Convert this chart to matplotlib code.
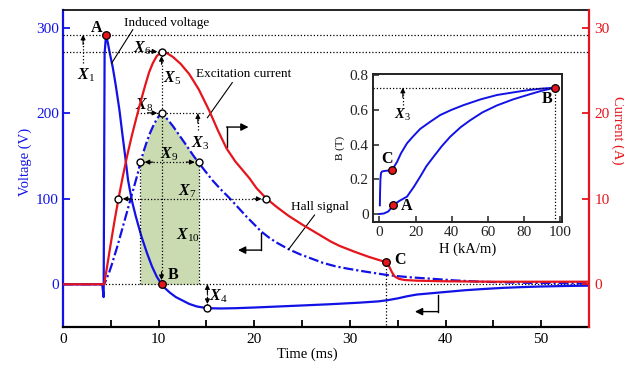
import numpy as np
import matplotlib
matplotlib.use("Agg")
import matplotlib.pyplot as plt
from matplotlib.ticker import MultipleLocator, FuncFormatter

plt.rcParams["font.family"] = ["Liberation Serif", "DejaVu Serif"]
plt.rcParams["mathtext.fontset"] = "custom"
plt.rcParams["mathtext.rm"] = "Liberation Serif"
plt.rcParams["mathtext.it"] = "Liberation Serif:italic:bold"
plt.rcParams["mathtext.bf"] = "Liberation Serif:bold"

# ---- data (time in ms) ----
t_volt = np.array([0, 4.1, 4.25, 4.35, 4.5, 4.7, 4.9, 5.2, 5.5, 5.9, 6.25, 6.5, 6.8,
                   7.2, 7.6, 8.2, 8.8, 9.3, 9.8, 10.3, 10.7, 11.2, 11.8, 12.5, 13.2,
                   14.0, 15.1, 16.5, 18.0, 20.0, 22.5, 25.0, 28.0, 31.0, 33.0, 34.0,
                   35.0, 36.0, 37.0, 38.5, 40.0, 42.0, 44.0, 46.0, 48.0, 50.0, 52.5, 55.0])
volt = np.array([0, 0, -15, 270, 292, 282, 270, 254, 234, 204, 172, 150, 122,
                 98, 80, 56, 36, 21, 9, 0, -5, -10, -15, -19, -23,
                 -26, -28, -28.3, -28, -27.2, -26, -24.8, -23.3, -21.5, -20, -18.5,
                 -16.5, -14, -12, -10.5, -9, -7, -5.5, -4.2, -3.3, -2.6, -2, -1.6])

t_curr = np.array([0, 4.3, 4.6, 5.0, 5.4, 5.8, 6.25, 6.7, 7.2, 7.7, 8.2, 8.6, 9.0, 9.4,
                   9.8, 10.3, 10.8, 11.5, 12.3, 13.2, 14.2, 15.3, 16.2, 17.1, 18.0,
                   18.75, 19.5, 20.2, 21.2, 22.4, 23.6, 25.0, 26.5, 28.0, 28.9, 30.5,
                   32.0, 33.0, 33.75, 34.1, 34.4, 34.7, 35.1, 35.7, 37.0, 40.0, 45.0,
                   50.0, 55.0])
curr = np.array([0, 0, 2.0, 4.8, 7.5, 10.0, 12.6, 15.0, 17.4, 19.6, 21.7, 23.3, 24.8,
                 25.9, 26.7, 27.2, 27.1, 26.6, 25.8, 24.6, 22.8, 20.3, 18.0, 15.9, 14.4,
                 13.4, 12.4, 11.3, 10.1, 9.0, 8.0, 7.0, 6.0, 5.0, 4.5, 3.8,
                 3.2, 2.85, 2.6, 2.1, 1.4, 0.9, 0.65, 0.5, 0.42, 0.35, 0.3,
                 0.3, 0.3])

t_hall = np.array([0, 4.3, 4.5, 4.8, 5.1, 5.4, 5.7, 6.0, 6.3, 6.6, 7.0, 7.4, 7.8, 8.1,
                   8.5, 8.8, 9.1, 9.5, 9.8, 10.1, 10.3, 10.6, 11.0, 11.5, 12.0, 12.5,
                   13.0, 13.6, 14.2, 14.9, 15.6, 16.5, 17.4, 18.3, 19.2, 20.0, 20.7,
                   21.5, 22.3, 23.6, 24.8, 26.0, 27.2, 28.5, 29.9, 31.5, 33.8, 35.0,
                   36.5, 38.5, 41.0, 43.7, 47.0, 50.0, 55.0])
hall = np.array([0, 0, 5, 13, 23, 34, 45, 57, 69, 81, 97, 113, 129, 143,
                 158, 168, 177, 187, 193, 198, 200, 197, 192, 185, 177, 169,
                 161, 151, 142, 132, 122, 111, 101, 90, 79, 70, 62,
                 55, 49, 41, 35, 30, 25, 21, 18, 15, 11, 9.5,
                 8, 6.5, 4.5, 3, 2, 1.5, 1])

# B-H loop (inset)
h_rise = np.array([0, 2.5, 5, 7.7, 11, 15.3, 19, 22.6, 26, 30, 34.5, 39.2, 45, 50.3,
                   57, 65, 74, 83.4, 90, 96.9])
b_rise = np.array([0, 0.003, 0.015, 0.05, 0.075, 0.10, 0.155, 0.215, 0.275, 0.33, 0.39,
                   0.445, 0.50, 0.54, 0.585, 0.625, 0.66, 0.69, 0.71, 0.727])
h_fall = np.array([96.9, 90, 83.4, 74, 65, 56, 46.6, 40, 33.7, 28, 22.6, 18.5, 15.3, 12,
                   9.8, 7.0, 5.0, 3.0, 1.5, 0.9, 0.6, 0.4, 0.3])
b_fall = np.array([0.727, 0.722, 0.715, 0.70, 0.685, 0.66, 0.627, 0.60, 0.57, 0.53, 0.49,
                   0.445, 0.407, 0.35, 0.30, 0.253, 0.25, 0.248, 0.245, 0.235, 0.20,
                   0.12, 0.05])

WIDTH_T = (8.1, 14.2)      # X9 half-width times on the Hall signal
X7_T = (5.8, 21.2)         # current = 10 A crossings
C_T = 33.75
VA = 10.0                  # volts per amp between the two y axes

BLUE = "#1212e6"
RED = "#e6141c"
GREEN = "#cbdbb1"
DOT = (0, (1, 1.6))


def at(t, y, tq):
    return y[np.argmin(np.abs(t - tq))]


fig = plt.figure(figsize=(6.24, 3.65), dpi=100)
ax = fig.add_axes([63 / 624, 38 / 365, 526 / 624, 317 / 365])
ax2 = ax.twinx()

ax.set_xlim(0, 55)
ax.set_ylim(-50, 321)
ax2.set_ylim(-50 / VA, 321 / VA)

# shaded area under the Hall signal
m = (t_hall >= WIDTH_T[0]) & (t_hall <= WIDTH_T[1])
ax.fill_between(t_hall[m], 0, hall[m], color=GREEN, lw=0, zorder=0.5)

ax.plot(t_volt, volt, color=BLUE, lw=1.6, zorder=2)
ax.plot(t_hall, hall, color=BLUE, lw=1.6, dashes=(4.5, 1.3, 1, 1.3), zorder=2)
ax2.plot(t_curr, curr, color=RED, lw=1.6, zorder=2)


def dline(axis, x, y):
    axis.plot(x, y, color="k", lw=0.9, ls=DOT, zorder=3)


def head(axis, xy, off, shrink=0, size=7):
    axis.annotate("", xy=xy, xytext=off, textcoords="offset points",
                  arrowprops=dict(arrowstyle="-|>", color="k", lw=0.8,
                                  shrinkA=0, shrinkB=shrink, mutation_scale=size),
                  zorder=4)


def bend_arrow(x0, y0, x1, y1):
    ax.plot([x0, x0], [y0, y1], color="k", lw=1.0, zorder=3)
    ax.annotate("", xy=(x1, y1), xytext=(x0, y1),
                arrowprops=dict(arrowstyle="-|>", color="k", lw=1.0,
                                shrinkA=0, shrinkB=0, mutation_scale=11))


def xlab(axis, x, y, s, **kw):
    axis.text(x, y, s, fontsize=11.5, ha="center", va="center", zorder=5, **kw)


# key points
iA = np.argmax(volt)
tA, vA = t_volt[iA], volt[iA]
iP = np.argmax(curr)
tP, cP = t_curr[iP], curr[iP]
iH = np.argmax(hall)
tH, vH = t_hall[iH], hall[iH]
tB = tH
iM = np.argmin(volt[t_volt < 16])
tM, vM = t_volt[iM], volt[iM]
vW = at(t_hall, hall, WIDTH_T[0])
c7 = at(t_curr, curr, X7_T[0])
cC = at(t_curr, curr, C_T)

# reference dotted lines
ax.axhline(vA, color="k", lw=0.9, ls=DOT, zorder=3)
ax2.axhline(cP, color="k", lw=0.9, ls=DOT, zorder=3)
ax.axhline(0, color="k", lw=0.9, ls=DOT, zorder=1)

# X1
dline(ax, [2.1, 2.1], [259, vA])
head(ax, (2.1, vA), (0, -7))
xlab(ax, 2.4, 245, r"$X_1$")

# vertical through the peaks
dline(ax, [tB, tB], [0, cP * VA])
head(ax, (tB, 0), (0, 9), shrink=3)
head(ax2, (tP, cP), (0, -9), shrink=3)
xlab(ax, 11.4, 241, r"$X_5$")

# X6 / X8
head(ax2, (tP, cP), (-10, 0.5), shrink=3)
xlab(ax, 8.3, 276, r"$X_6$")
dline(ax, [7.7, 14.8], [vH, vH])
head(ax, (tH, vH), (-10, 0.5), shrink=3)
xlab(ax, 8.5, 210, r"$X_8$")

# X3
dline(ax, [14.1, 14.1], [180, vH])
head(ax, (14.1, vH), (0, -7))
xlab(ax, 14.3, 165, r"$X_3$")

# X9 and the width of the shaded area
dline(ax, list(WIDTH_T), [vW, vW])
head(ax, (WIDTH_T[0], vW), (9, 0), shrink=3)
head(ax, (WIDTH_T[1], vW), (-9, 0), shrink=3)
dline(ax, [WIDTH_T[0]] * 2, [0, vW])
dline(ax, [WIDTH_T[1]] * 2, [0, vW])
xlab(ax, 11.1, 152, r"$X_9$")

# X7
dline(ax2, list(X7_T), [c7, c7])
head(ax2, (X7_T[0], c7), (9, 0), shrink=3)
head(ax2, (X7_T[1], c7), (-9, 0), shrink=3)
xlab(ax, 13.0, 109, r"$X_7$")
xlab(ax, 13.1, 57, r"$X_{10}$")

# X4
dline(ax, [tM, tM], [0, vM])
head(ax, (tM, 0), (0, -7))
head(ax, (tM, vM), (0, 8), shrink=3)
xlab(ax, 16.2, -14, r"$X_4$")

# C
dline(ax2, [C_T, C_T], [cC, -50 / VA])

# markers
ax.plot([WIDTH_T[0], WIDTH_T[1], tH, tM], [vW, vW, vH, vM], "o", ms=5, mfc="white",
        mec="k", mew=1.0, zorder=6)
ax2.plot([X7_T[0], X7_T[1], tP], [c7, c7, cP], "o", ms=5, mfc="white",
         mec="k", mew=1.0, zorder=6)
ax.plot([tA, tB], [vA, 0], "o", ms=5.5, mfc=RED, mec="k", mew=0.9, zorder=6)
ax2.plot([C_T], [cC], "o", ms=5.5, mfc=RED, mec="k", mew=0.9, zorder=6)

bold = dict(fontsize=11.5, fontweight="bold", va="center", zorder=6)
ax.text(3.55, 300, "A", ha="center", **bold)
ax.text(10.9, 11, "B", ha="left", **bold)
ax2.text(34.6, 2.8, "C", ha="left", **bold)

# curve names with leaders
ax.text(6.4, 306, "Induced voltage", fontsize=9.5, ha="left", va="center")
ax.plot([7.3, 5.1], [298, 259], color="k", lw=0.8)
ax.text(13.9, 246, "Excitation current", fontsize=9.5, ha="left", va="center")
ax.plot([17.7, 15.1], [236, 195], color="k", lw=0.8)
ax.text(23.8, 91, "Hall signal", fontsize=9.5, ha="left", va="center")
ax.plot([26.3, 23.6], [81, 41], color="k", lw=0.8)

# axis pointers
bend_arrow(17.1, 161, 19.4, 184)
bend_arrow(20.7, 60, 18.3, 40)
bend_arrow(39.2, -13, 36.8, -32)

# axes styling
ax.xaxis.set_major_locator(MultipleLocator(5))
ax.xaxis.set_major_formatter(FuncFormatter(lambda v, p: "%d" % v if v % 10 == 0 else ""))
ax.set_yticks([0, 100, 200, 300])
ax2.set_yticks([0, 10, 20, 30])
ax.tick_params(axis="x", direction="in", length=5, width=1.3, labelsize=11, pad=4)
ax.tick_params(axis="y", direction="in", length=5, width=1.3, labelsize=11, pad=3,
               colors=BLUE)
ax2.tick_params(axis="y", direction="in", length=5, width=1.3, labelsize=11, pad=4,
                colors=RED)
for s in ["left", "top", "bottom"]:
    ax2.spines[s].set_visible(False)
ax.spines["right"].set_visible(False)
ax.spines["left"].set_color(BLUE)
ax.spines["left"].set_linewidth(1.6)
ax.spines["bottom"].set_linewidth(1.6)
ax.spines["top"].set_linewidth(1.2)
ax2.spines["right"].set_color(RED)
ax2.spines["right"].set_linewidth(1.6)

ax.set_xlabel("Time (ms)", fontsize=10.5)
ax.xaxis.set_label_coords(0.464, -0.066)
ax.set_ylabel("Voltage (V)", fontsize=10.5, color=BLUE)
ax.yaxis.set_label_coords(-0.058, 0.52)
ax2.set_ylabel("Current (A)", fontsize=10.5, color=RED, rotation=270, va="bottom")
ax2.yaxis.set_label_coords(1.042, 0.62)

# ---- inset: B-H loop ----
axi = fig.add_axes([373 / 624, 143 / 365, 189 / 624, 148 / 365])
axi.set_xlim(-3.5, 101)
axi.set_ylim(-0.046, 0.806)
axi.plot(h_rise, b_rise, color=BLUE, lw=1.4)
axi.plot(h_fall, b_fall, color=BLUE, lw=1.4)
hB, bB = h_rise[-1], b_rise[-1]
axi.axhline(bB, color="k", lw=0.9, ls=DOT)
axi.plot([hB, hB], [-0.046, bB], color="k", lw=0.9, ls=DOT)
axi.plot([13, 13], [0.627, bB], color="k", lw=0.9, ls=DOT)
head(axi, (13, bB), (0, -7))
axi.text(13, 0.57, r"$X_3$", fontsize=10.5, ha="center", va="center")
axi.plot([at(h_rise, h_rise, 7.7), at(h_fall, h_fall, 7.0), hB],
         [at(h_rise, b_rise, 7.7), at(h_fall, b_fall, 7.0), bB],
         "o", ms=5.5, mfc=RED, mec="k", mew=0.9, zorder=5)
axi.text(15.2, 0.048, "A", ha="center", **bold)
axi.text(4.2, 0.315, "C", ha="center", **bold)
axi.text(92.5, 0.66, "B", ha="center", **bold)
axi.set_xticks([0, 20, 40, 60, 80, 100])
axi.set_yticks([0, 0.2, 0.4, 0.6, 0.8])
axi.yaxis.set_major_formatter(FuncFormatter(lambda v, p: "0" if v == 0 else "%.1f" % v))
axi.tick_params(direction="in", length=4, width=1.1, labelsize=11, colors="#222222",
                pad=3)
for s in axi.spines.values():
    s.set_linewidth(1.4)
    s.set_color("#222222")
axi.set_xlabel("H (kA/m)", fontsize=10.5)
axi.xaxis.set_label_coords(0.5, -0.14)
axi.set_ylabel("B (T)", fontsize=8)
axi.yaxis.set_label_coords(-0.15, 0.5)

fig.savefig("out.png", dpi=100)
